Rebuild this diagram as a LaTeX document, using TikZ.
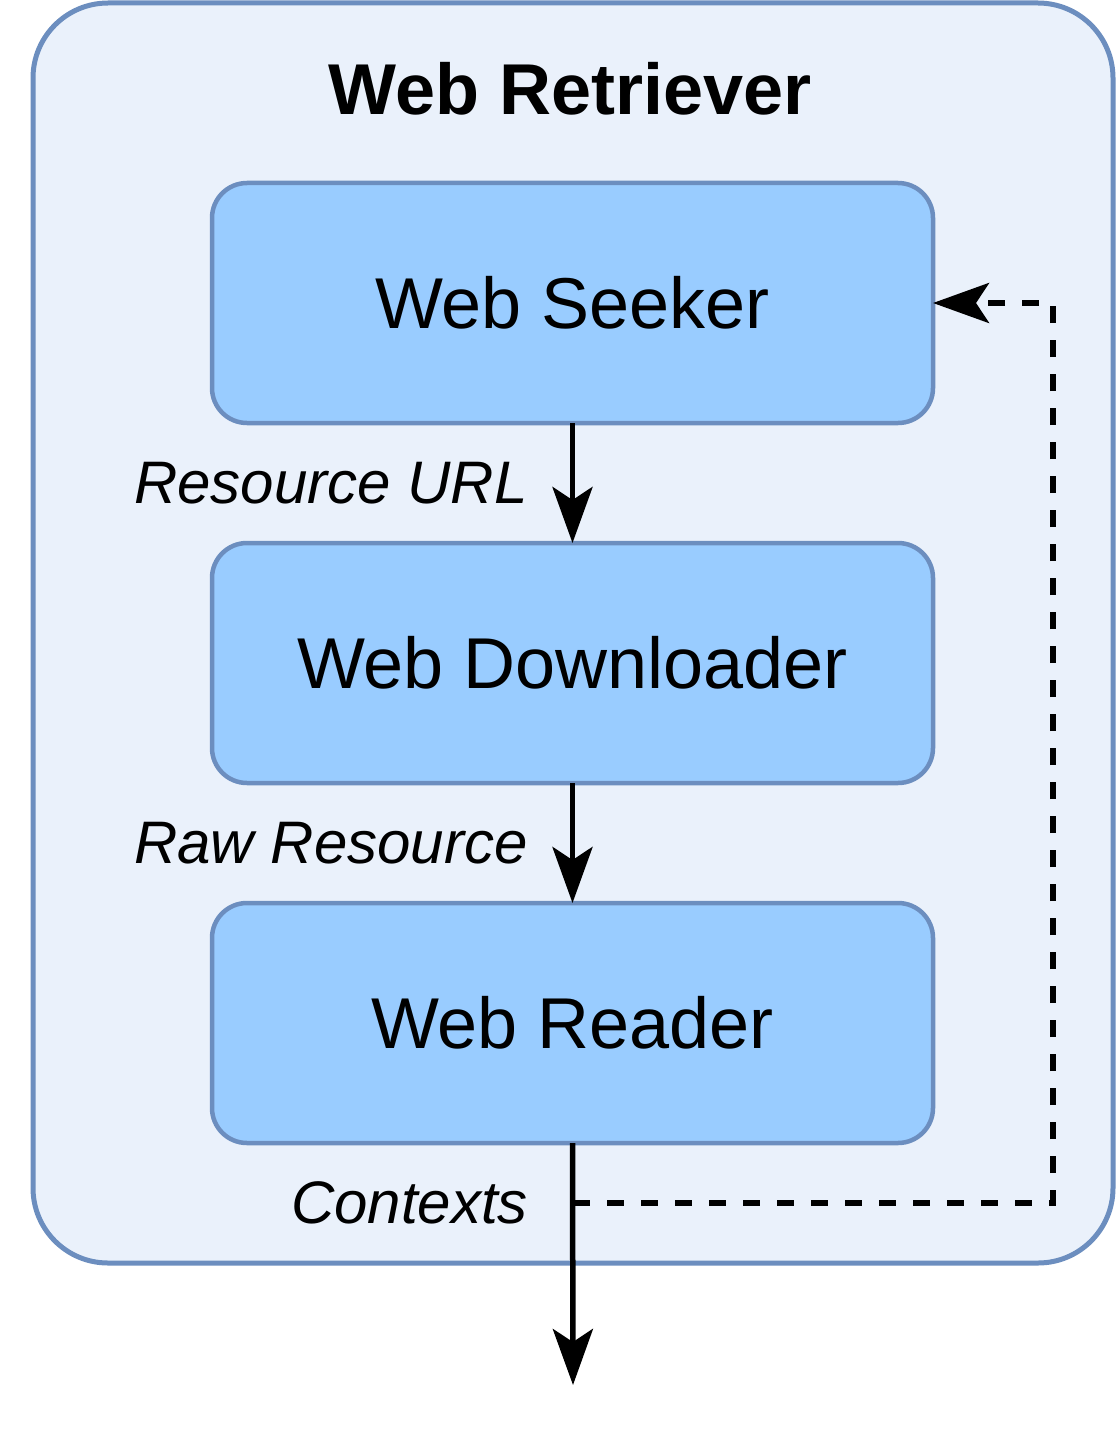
\documentclass[tikz,border=0pt]{standalone}
\usepackage{fontspec}
\setmainfont{Liberation Sans}
\usetikzlibrary{arrows.meta}
\definecolor{outerfill}{HTML}{EAF1FB}
\definecolor{boxfill}{HTML}{99CCFF}
\definecolor{boxline}{HTML}{6C8EBF}
\tikzset{
  modbox/.style={draw=boxline, fill=boxfill, line width=4.5pt, rounded corners=35pt,
    minimum width=721pt, minimum height=240pt, inner sep=0pt, outer sep=0pt,
    font=\fontsize{72}{86}\selectfont},
  flowlabel/.style={anchor=east, inner sep=0pt, font=\fontsize{60}{72}\selectfont\itshape},
  flow/.style={line width=5.5pt, -{Stealth[length=56pt,width=40pt,inset=13pt]}},
  feedback/.style={flow, dash pattern=on 17pt off 17pt},
}
\begin{document}
\begin{tikzpicture}[x=1pt,y=-1pt]
\useasboundingbox (0,0) rectangle (1116,1434);
\draw[draw=boxline, fill=outerfill, line width=5pt, rounded corners=75pt] (33,3) rectangle (1113,1263);
\node[inner sep=0pt, font=\fontsize{72}{86}\selectfont\bfseries] (title) at (570,89) {Web Retriever};
\node[modbox] (seeker) at (572.5,303) {Web Seeker};
\node[modbox] (down) at (572.5,663) {Web Downloader};
\node[modbox] (reader) at (572.5,1023) {Web Reader};
\node[flowlabel] (l1) at (528,483) {Resource URL};
\node[flowlabel] (l2) at (528,843) {Raw Resource};
\node[flowlabel] (l3) at (528,1203) {Contexts};
\coordinate (split) at (573,1203);
\coordinate (corner1) at (1053,1203);
\coordinate (corner2) at (1053,303);
\coordinate (outend) at (573,1385);
\draw[flow] (seeker.south) -- (down.north);
\draw[flow] (down.south) -- (reader.north);
\draw[flow] (reader.south) -- (outend);
\draw[feedback] (split) -- (corner1) -- (corner2) -- (seeker.east);
\end{tikzpicture}
\end{document}
